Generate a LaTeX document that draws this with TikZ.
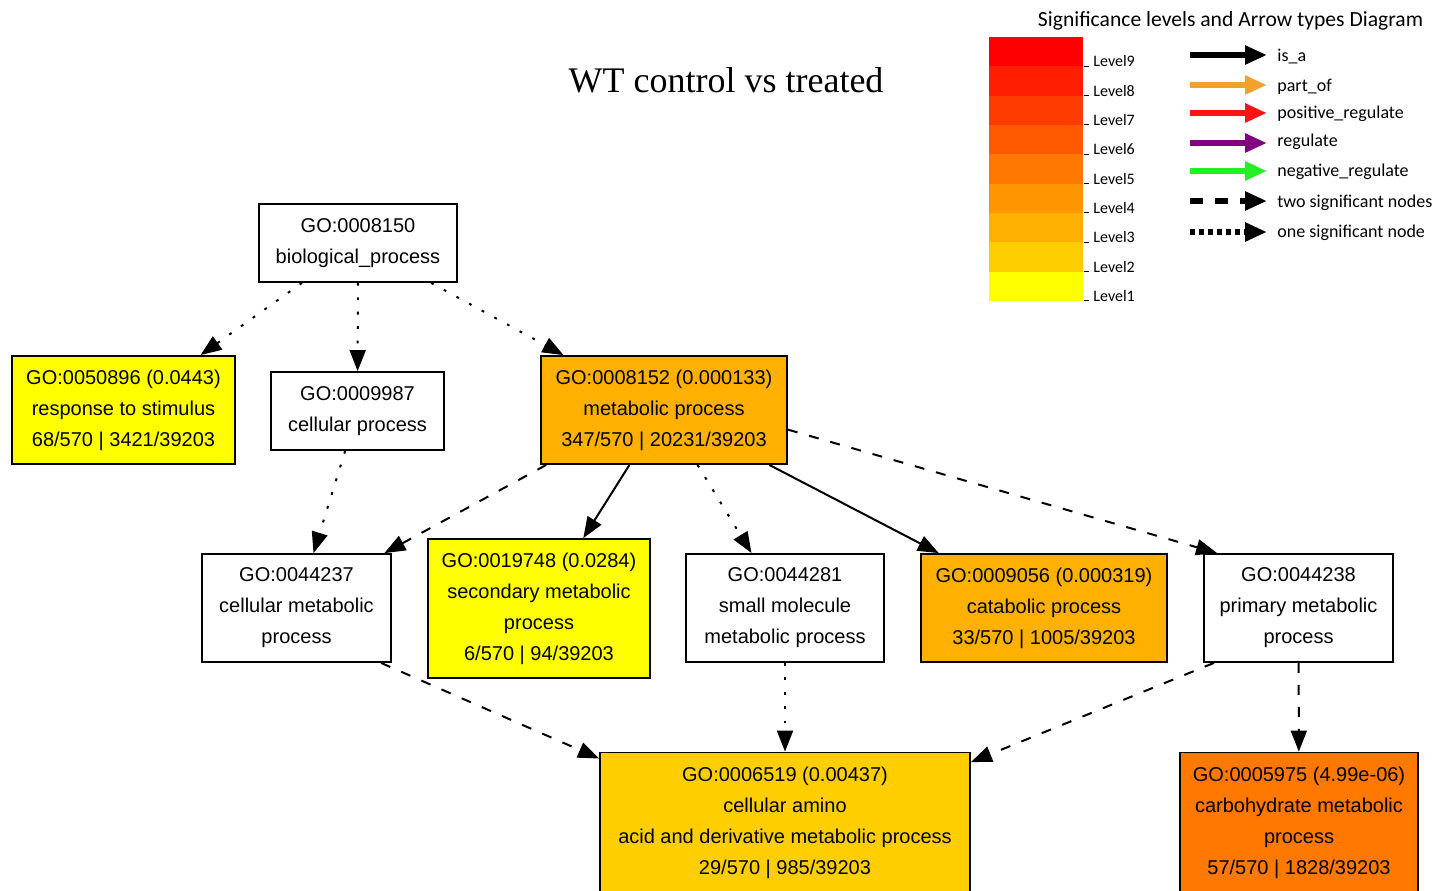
\documentclass[tikz,border=0pt]{standalone}
\usepackage{fontspec}
\setmainfont{Liberation Sans}
\newfontfamily\titlefont{Liberation Serif}
\newfontfamily\legfont{Carlito}
\usetikzlibrary{arrows.meta}
\definecolor{lv1}{HTML}{FFFF00}
\definecolor{lv2}{HTML}{FFCE00}
\definecolor{lv3}{HTML}{FFB000}
\definecolor{lv4}{HTML}{FF9600}
\definecolor{lv5}{HTML}{FF7800}
\definecolor{lv6}{HTML}{FF5A00}
\definecolor{lv7}{HTML}{FF3C00}
\definecolor{lv8}{HTML}{FF1E00}
\definecolor{lv9}{HTML}{FF0000}
\definecolor{partof}{HTML}{F2A22A}
\definecolor{posreg}{HTML}{FF1414}
\definecolor{reg}{HTML}{800080}
\definecolor{negreg}{HTML}{22F022}
\begin{document}
\begin{tikzpicture}[x=0.5pt,y=-0.5pt,
  gonode/.style={draw=black, line width=0.9pt, align=center, inner sep=0pt,
    font=\fontsize{10pt}{15.5pt}\selectfont},
  isa/.style={line width=1pt, -{Triangle[length=10.5pt,width=8pt]}},
  twosig/.style={isa, dash pattern=on 5pt off 6pt},
  onesig/.style={isa, dash pattern=on 1.4pt off 5.8pt},
  legarrow/.style={line width=3pt, -{Triangle[length=11pt,width=9pt]}},
  leglabel/.style={anchor=base west, inner sep=0pt, font=\legfont\fontsize{9pt}{11pt}\selectfont},
  levlabel/.style={anchor=base west, inner sep=0pt, font=\legfont\fontsize{8pt}{9pt}\selectfont},
]
\clip (0,0) rectangle (1440,890);
\fill[white] (0,0) rectangle (1440,890);

% title
\node[anchor=base, inner sep=0pt, font=\titlefont\fontsize{18pt}{20pt}\selectfont] (title) at (726,92) {WT control vs treated};

% legend title
\node[anchor=base, inner sep=0pt, font=\legfont\fontsize{10.8pt}{12pt}\selectfont] (legtitle) at (1230.5,26) {Significance levels and Arrow types Diagram};

% level bar
\foreach \i in {9,8,...,1}{
  \pgfmathsetmacro{\ytop}{37+(9-\i)*29.33}
  \pgfmathsetmacro{\ybot}{37+(10-\i)*29.33}
  \fill[lv\i] (989,\ytop) rectangle (1083,\ybot);
  \draw[line width=0.5pt] (1084,\ybot) -- (1089,\ybot);
  \node[levlabel] (lev\i) at (1093,\ybot+0.5) {Level\i};
}

% legend arrows
\draw[legarrow, black] (1190,55) -- (1267,55);
\draw[legarrow, partof] (1190,85) -- (1267,85);
\draw[legarrow, posreg] (1190,113) -- (1267,113);
\draw[legarrow, reg] (1190,143) -- (1267,143);
\draw[legarrow, negreg] (1190,171) -- (1267,171);
\draw[legarrow, black, dash pattern=on 6.5pt off 6pt] (1190,201) -- (1267,201);
\draw[legarrow, black, dash pattern=on 2.5pt off 2pt] (1190,232) -- (1267,232);
\node[leglabel] (lisa) at (1277,61) {is\_a};
\node[leglabel] (lpart) at (1277,91) {part\_of};
\node[leglabel] (lpos) at (1277,118) {positive\_regulate};
\node[leglabel] (lreg) at (1277,146) {regulate};
\node[leglabel] (lneg) at (1277,176) {negative\_regulate};
\node[leglabel] (ltwo) at (1277,207) {two significant nodes};
\node[leglabel] (lone) at (1277,237) {one significant node};

% GO nodes
\node[gonode, minimum width=99pt, minimum height=39pt] (BP) at (358,243) {GO:0008150\\biological\_process};
\node[gonode, fill=lv1, minimum width=111.5pt, minimum height=54pt] (RS) at (123.5,410) {GO:0050896 (0.0443)\\response to stimulus\\68/570 | 3421/39203};
\node[gonode, minimum width=86.5pt, minimum height=39pt] (CP) at (357.5,411) {GO:0009987\\cellular process};
\node[gonode, fill=lv3, minimum width=123pt, minimum height=54pt] (MP) at (664,410) {GO:0008152 (0.000133)\\metabolic process\\347/570 | 20231/39203};
\node[gonode, minimum width=94.5pt, minimum height=54pt] (CMP) at (296.5,608) {GO:0044237\\cellular metabolic\\process};
\node[gonode, fill=lv1, minimum width=111pt, minimum height=69.5pt] (SMP) at (539,608.5) {GO:0019748 (0.0284)\\secondary metabolic\\process\\6/570 | 94/39203};
\node[gonode, minimum width=99pt, minimum height=54pt] (SMMP) at (785,608) {GO:0044281\\small molecule\\metabolic process};
\node[gonode, fill=lv3, minimum width=123pt, minimum height=54pt] (CAT) at (1044,608) {GO:0009056 (0.000319)\\catabolic process\\33/570 | 1005/39203};
\node[gonode, minimum width=94.5pt, minimum height=54pt] (PMP) at (1298.5,608) {GO:0044238\\primary metabolic\\process};
\node[gonode, fill=lv2, minimum width=185pt, minimum height=70pt] (CAA) at (785,822.5) {GO:0006519 (0.00437)\\cellular amino\\acid and derivative metabolic process\\29/570 | 985/39203};
\node[gonode, fill=lv5, minimum width=119pt, minimum height=70pt] (CHM) at (1299,822.5) {GO:0005975 (4.99e-06)\\carbohydrate metabolic\\process\\57/570 | 1828/39203};

% edges
\draw[onesig] (BP) -- (RS);
\draw[onesig] (BP) -- (CP);
\draw[onesig] (BP) -- (MP);
\draw[onesig] (CP) -- (CMP);
\draw[twosig] (MP.205) -- (CMP.32);
\draw[isa] (MP) -- (SMP);
\draw[onesig] (MP) -- (SMMP);
\draw[isa] (MP) -- (CAT);
\draw[twosig] (MP.-9) -- (PMP.146);
\draw[twosig] (CMP.-33) -- (CAA.161);
\draw[onesig] (SMMP) -- (CAA);
\draw[twosig] (PMP.213) -- (CAA.18);
\draw[twosig] (PMP) -- (CHM);
\end{tikzpicture}
\end{document}
